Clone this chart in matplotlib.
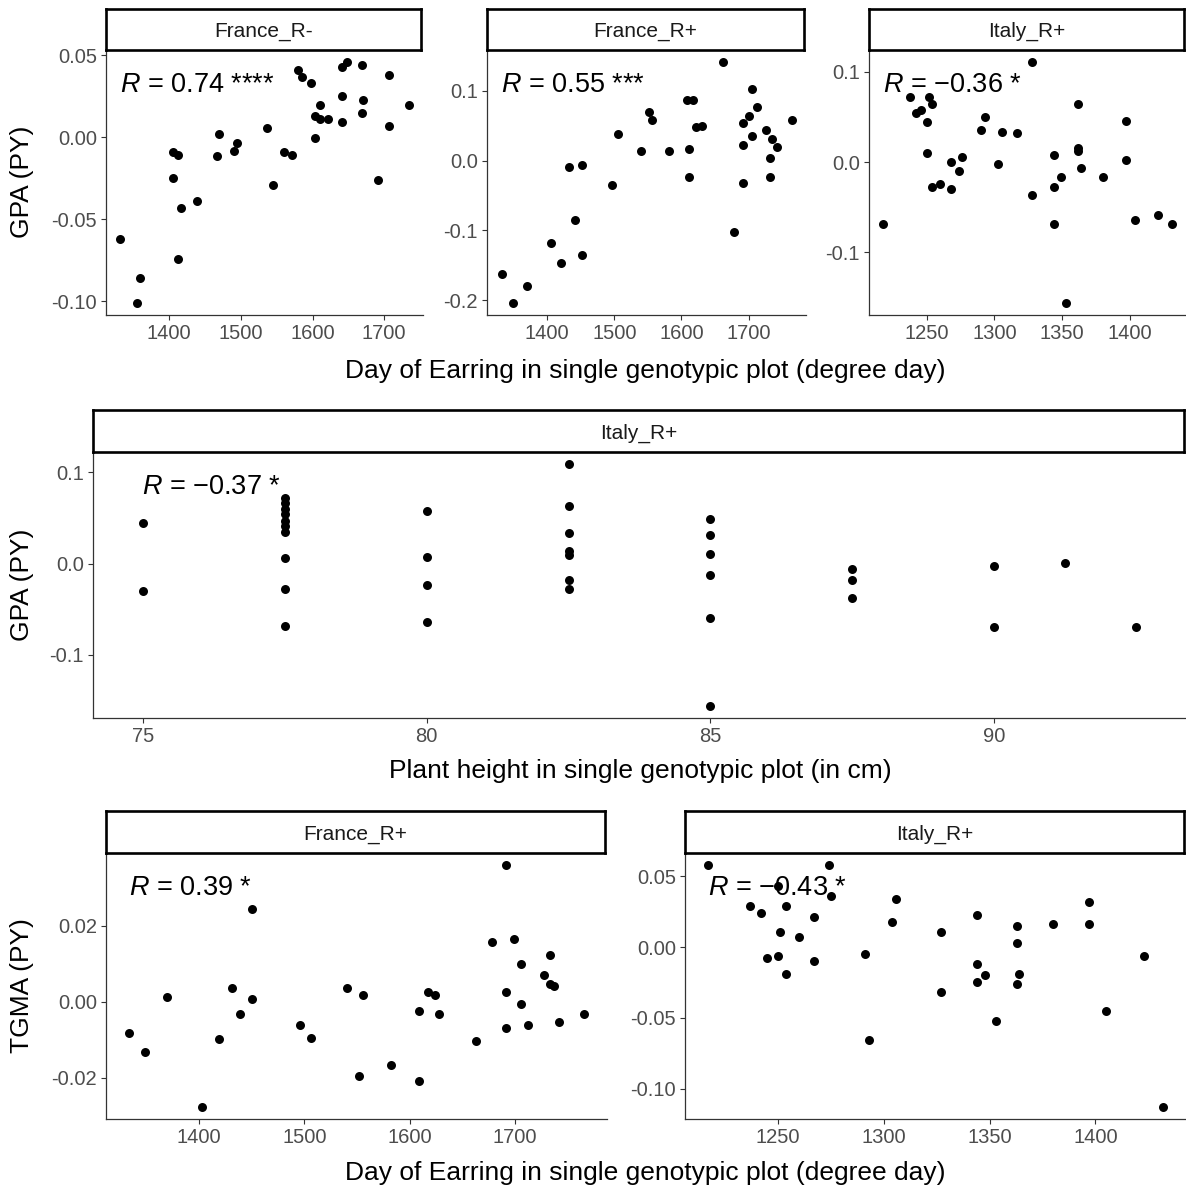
import matplotlib
matplotlib.use("Agg")
import matplotlib.pyplot as plt

plt.rcParams['font.family'] = ['Liberation Sans', 'DejaVu Sans']
plt.rcParams['mathtext.fontset'] = 'custom'
plt.rcParams['mathtext.it'] = 'Liberation Sans:italic'
plt.rcParams['mathtext.rm'] = 'Liberation Sans'
plt.rcParams['axes.unicode_minus'] = False

# France_R- : day of earring vs GPA
fr_minus_x = [1332, 1359, 1355, 1405, 1412, 1405, 1417, 1439, 1412, 1470, 1467, 1490,
              1495, 1536, 1545, 1560, 1571, 1580, 1585, 1598, 1603, 1610, 1622, 1610,
              1603, 1641, 1641, 1648, 1641, 1669, 1671, 1669, 1692, 1706, 1706, 1734]
fr_minus_y = [-0.062, -0.086, -0.101, -0.009, -0.0105, -0.0245, -0.043, -0.039, -0.074,
              0.002, -0.0115, -0.008, -0.0035, 0.006, -0.029, -0.009, -0.0105, 0.041,
              0.037, 0.033, 0.013, 0.011, 0.011, 0.020, -0.0003, 0.025, 0.043, 0.046,
              0.0097, 0.044, 0.023, 0.015, -0.026, 0.038, 0.007, 0.020]

# France_R+ : day of earring vs GPA
fr_plus_x = [1332, 1349, 1370, 1406, 1420, 1432, 1441, 1452, 1452, 1497, 1506, 1540,
             1551, 1556, 1581, 1609, 1617, 1611, 1611, 1622, 1630, 1662, 1678, 1692,
             1700, 1692, 1692, 1705, 1705, 1713, 1726, 1735, 1743, 1732, 1732, 1764]
fr_plus_y = [-0.162, -0.204, -0.180, -0.118, -0.147, -0.0095, -0.085, -0.007, -0.136,
             -0.035, 0.038, 0.014, 0.070, 0.058, 0.014, 0.087, 0.087, 0.017, -0.024,
             0.048, 0.050, 0.141, -0.102, 0.053, 0.064, 0.022, -0.032, 0.102, 0.035,
             0.077, 0.043, 0.031, 0.020, 0.004, -0.024, 0.058]

# Italy_R+ : day of earring vs GPA
it_plus_x = [1218, 1238, 1242, 1246, 1250, 1252, 1254, 1250, 1254, 1260, 1268, 1268,
             1274, 1276, 1290, 1293, 1303, 1306, 1317, 1328, 1328, 1344, 1344, 1344,
             1349, 1353, 1362, 1362, 1362, 1364, 1380, 1397, 1397, 1404, 1421, 1431]
it_plus_y = [-0.068, 0.072, 0.054, 0.058, 0.044, 0.072, 0.065, 0.010, -0.027, -0.024,
             0.000, -0.030, -0.010, 0.006, 0.036, 0.050, -0.002, 0.034, 0.032, 0.111,
             -0.036, 0.008, -0.027, -0.069, -0.016, -0.156, 0.065, 0.016, 0.012, -0.006,
             -0.016, 0.046, 0.002, -0.064, -0.058, -0.069]

# Italy_R+ : plant height vs GPA
height_x = [75, 75,
            77.5, 77.5, 77.5, 77.5, 77.5, 77.5, 77.5, 77.5, 77.5, 77.5,
            80, 80, 80, 80,
            82.5, 82.5, 82.5, 82.5, 82.5, 82.5, 82.5,
            85, 85, 85, 85, 85, 85,
            87.5, 87.5, 87.5,
            90, 90, 91.25, 92.5]
height_y = [0.044, -0.030,
            0.072, 0.066, 0.060, 0.054, 0.047, 0.041, 0.035, 0.006, -0.028, -0.068,
            0.058, 0.007, -0.024, -0.064,
            0.109, 0.063, 0.033, 0.014, 0.009, -0.018, -0.028,
            0.049, 0.031, 0.011, -0.012, -0.060, -0.156,
            -0.006, -0.018, -0.038,
            -0.003, -0.070, 0.001, -0.070]

# France_R+ : day of earring vs TGMA
tg_fr_x = [1333, 1348, 1369, 1403, 1419, 1431, 1439, 1450, 1450, 1496, 1506, 1540,
           1552, 1556, 1582, 1609, 1609, 1617, 1624, 1628, 1663, 1678, 1692, 1692,
           1692, 1699, 1706, 1706, 1713, 1728, 1733, 1733, 1737, 1742, 1766]
tg_fr_y = [-0.0083, -0.0132, 0.0013, -0.0276, -0.0098, 0.0037, -0.0031, 0.0243, 0.0008,
           -0.0060, -0.0094, 0.0037, -0.0195, 0.0017, -0.0166, -0.0024, -0.0208, 0.0027,
           0.0017, -0.0031, -0.0103, 0.0157, 0.0359, 0.0027, -0.0069, 0.0166, 0.0098,
           -0.0007, -0.0060, 0.0070, 0.0122, 0.0046, 0.0041, -0.0054, -0.0031]

# Italy_R+ : day of earring vs TGMA
tg_it_x = [1217, 1237, 1242, 1245, 1250, 1250, 1251, 1254, 1254, 1260, 1267, 1267,
           1274, 1275, 1291, 1293, 1304, 1306, 1327, 1327, 1344, 1344, 1344, 1348,
           1353, 1363, 1363, 1364, 1363, 1380, 1397, 1397, 1405, 1423, 1432]
tg_it_y = [0.058, 0.029, 0.024, -0.008, 0.043, -0.006, 0.011, 0.029, -0.019, 0.007,
           0.021, -0.0095, 0.058, 0.036, -0.005, -0.066, 0.0175, 0.034, 0.011, -0.032,
           0.023, -0.012, -0.025, -0.020, -0.052, 0.015, 0.003, -0.019, -0.026, 0.016,
           0.032, 0.016, -0.045, -0.006, -0.113]

W, H = 1186, 1189
fig = plt.figure(figsize=(W / 100, H / 100), dpi=100)


def px_rect(l, t, r, b):
    return [l / W, 1 - b / H, (r - l) / W, (b - t) / H]


def panel(box, strip_top, strip, x, y, label, xticks, yticks, yfmt):
    l, t, r, b = box
    ax = fig.add_axes(px_rect(l, t, r, b))
    ax.scatter(x, y, s=42, color='black', linewidths=0, zorder=3)
    ax.set_xticks(xticks)
    ax.set_yticks(yticks)
    ax.set_yticklabels([yfmt % v for v in yticks])
    for side in ['top', 'right']:
        ax.spines[side].set_visible(False)
    for side in ['left', 'bottom']:
        ax.spines[side].set_linewidth(0.9)
        ax.spines[side].set_color('#333333')
    ax.tick_params(length=3.6, width=0.8, color='#333333', labelsize=14.5,
                   labelcolor='#4D4D4D', pad=3)
    ax.text(0.045, 0.868, label, transform=ax.transAxes, fontsize=19.5,
            va='center', ha='left')
    sax = fig.add_axes(px_rect(l, strip_top, r - 2, t))
    sax.set_xticks([])
    sax.set_yticks([])
    for sp in sax.spines.values():
        sp.set_linewidth(1.9)
        sp.set_color('black')
    sax.text(0.5, 0.45, strip, transform=sax.transAxes, ha='center', va='center',
             fontsize=15, color='#1A1A1A')
    return ax


panel((106, 50, 423, 315), 9, 'France_R-', fr_minus_x, fr_minus_y,
      '$R$ = 0.74 ****', [1400, 1500, 1600, 1700], [-0.10, -0.05, 0.00, 0.05], '%.2f')
panel((487, 50, 806, 315), 9, 'France_R+', fr_plus_x, fr_plus_y,
      '$R$ = 0.55 ***', [1400, 1500, 1600, 1700], [-0.2, -0.1, 0.0, 0.1], '%.1f')
panel((869, 50, 1186, 315), 9, 'Italy_R+', it_plus_x, it_plus_y,
      '$R$ = \u22120.36 *', [1250, 1300, 1350, 1400], [-0.1, 0.0, 0.1], '%.1f')
panel((93, 452, 1186, 718), 410, 'Italy_R+', height_x, height_y,
      '$R$ = \u22120.37 *', [75, 80, 85, 90], [-0.1, 0.0, 0.1], '%.1f')
panel((106, 853, 607, 1119), 811, 'France_R+', tg_fr_x, tg_fr_y,
      '$R$ = 0.39 *', [1400, 1500, 1600, 1700], [-0.02, 0.00, 0.02], '%.2f')
panel((685, 853, 1186, 1119), 811, 'Italy_R+', tg_it_x, tg_it_y,
      '$R$ = \u22120.43 *', [1250, 1300, 1350, 1400], [-0.10, -0.05, 0.00, 0.05], '%.2f')

xlab = 'Day of Earring in single genotypic plot (degree day)'
fig.text(645 / W, 1 - 371 / H, xlab, ha='center', va='center', fontsize=19)
fig.text(640 / W, 1 - 771 / H, 'Plant height in single genotypic plot (in cm)',
         ha='center', va='center', fontsize=19)
fig.text(645 / W, 1 - 1173 / H, xlab, ha='center', va='center', fontsize=19)
fig.text(22 / W, 1 - 182 / H, 'GPA (PY)', rotation=90, ha='center', va='center', fontsize=19)
fig.text(22 / W, 1 - 585 / H, 'GPA (PY)', rotation=90, ha='center', va='center', fontsize=19)
fig.text(22 / W, 1 - 986 / H, 'TGMA (PY)', rotation=90, ha='center', va='center', fontsize=19)

fig.savefig('out.png', dpi=100)
